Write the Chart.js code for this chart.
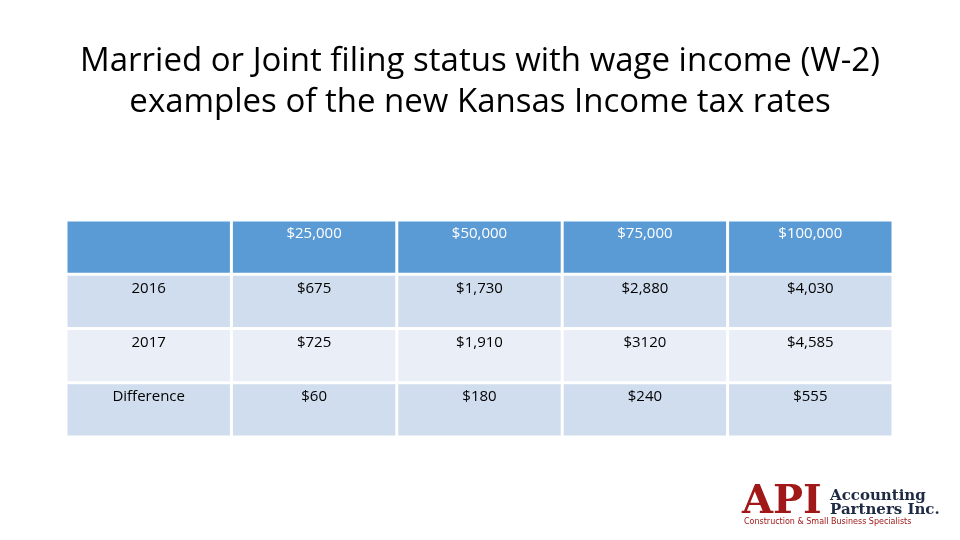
<!DOCTYPE html>
<html><head><meta charset="utf-8">
<script src="https://cdn.jsdelivr.net/npm/chart.js@4"></script>
<style>html,body{margin:0;padding:0;background:#fff}#w{position:relative;width:960px;height:540px}</style>
</head><body><div id="w"><canvas id="c" width="960" height="540"></canvas></div>
<script>
const titleLines = ["Married or Joint filing status with wage income (W-2)", "examples of the new Kansas Income tax rates"];
const columns = ["", "$25,000", "$50,000", "$75,000", "$100,000"];
const rowLabels = ["2016", "2017", "Difference"];
const values2016 = ["$675", "$1,730", "$2,880", "$4,030"];
const values2017 = ["$725", "$1,910", "$3120", "$4,585"];
const valuesDiff = ["$60", "$180", "$240", "$555"];
const rows = [values2016, values2017, valuesDiff];
const rowFills = ["#CFDDEE", "#E9EEF7", "#CFDDEE"];

const tablePlugin = {
  id: 'table',
  afterDraw(chart) {
    const ctx = chart.ctx, xs = chart.scales.x, ys = chart.scales.y;
    const gap = 1.5;
    const cell = (c, r, fill, text, color) => {
      const x0 = xs.getPixelForValue(c), x1 = xs.getPixelForValue(c + 1);
      const y0 = ys.getPixelForValue(r), y1 = ys.getPixelForValue(r + 1);
      ctx.fillStyle = fill;
      ctx.fillRect(x0 + gap, y0 + gap, x1 - x0 - 2 * gap, y1 - y0 - 2 * gap);
      ctx.fillStyle = color;
      ctx.font = '15px "Open Sans"';
      ctx.textAlign = 'center'; ctx.textBaseline = 'middle';
      ctx.fillText(text, (x0 + x1) / 2, y0 + 14);
    };
    ctx.save();
    columns.forEach((t, c) => cell(c, 0, '#5B9BD5', t, '#fff'));
    rowLabels.forEach((lab, r) => {
      cell(0, r + 1, rowFills[r], lab, '#000');
      rows[r].forEach((v, c) => cell(c + 1, r + 1, rowFills[r], v, '#000'));
    });
    ctx.fillStyle = '#000'; ctx.font = '33px "Open Sans"';
    ctx.textAlign = 'center'; ctx.textBaseline = 'middle';
    ctx.save(); ctx.translate(480, 0); ctx.scale(1.0, 1);
    titleLines.forEach((t, i) => ctx.fillText(t, 0, 62 + i * 41));
    ctx.restore();
    ctx.textAlign = 'left'; ctx.textBaseline = 'alphabetic';
    ctx.fillStyle = '#A01818'; ctx.font = 'bold 40px "DejaVu Serif"';
    ctx.fillText('API', 742, 513);
    ctx.fillStyle = '#1F2A44'; ctx.font = 'bold 15px "DejaVu Serif"';
    ctx.fillText('Accounting', 830, 500);
    ctx.fillText('Partners Inc.', 830, 514);
    ctx.fillStyle = '#A01818'; ctx.font = '8px "DejaVu Sans"';
    ctx.fillText('Construction & Small Business Specialists', 744, 524);
    ctx.restore();
  }
};

new Chart(document.getElementById('c'), {
  type: 'scatter',
  data: { datasets: [{ data: [] }] },
  options: {
    responsive: false, animation: false,
    layout: { padding: { left: 66, right: 67, top: 220, bottom: 103 } },
    plugins: { legend: { display: false }, tooltip: { enabled: false } },
    scales: {
      x: { type: 'linear', min: 0, max: columns.length, display: false },
      y: { type: 'linear', min: 0, max: rowLabels.length + 1, reverse: true, display: false }
    }
  },
  plugins: [tablePlugin]
});
</script></body></html>
